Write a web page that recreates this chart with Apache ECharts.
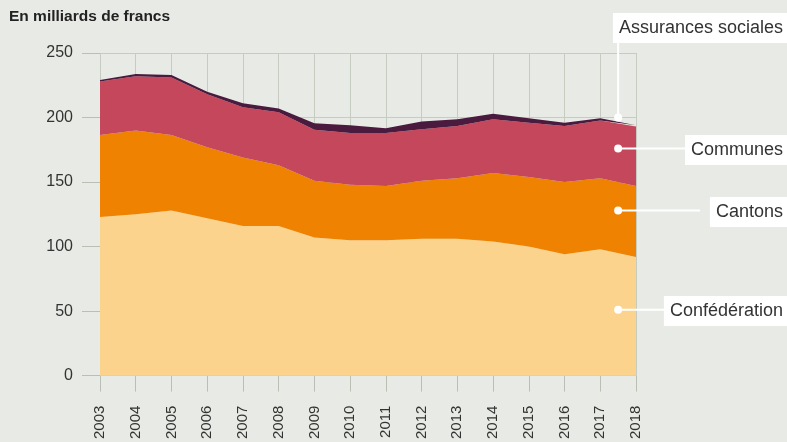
<!DOCTYPE html>
<html>
<head>
<meta charset="utf-8">
<script src="https://cdn.jsdelivr.net/npm/echarts@6/dist/echarts.min.js"></script>
<style>
  html, body { margin: 0; padding: 0; background: #e8ebe5; }
  #chart { width: 787px; height: 442px; }
</style>
</head>
<body>
<div id="chart"></div>
<script>
// Data (milliards de francs)
const years = ['2003','2004','2005','2006','2007','2008','2009','2010','2011','2012','2013','2014','2015','2016','2017','2018'];
const confederation = [123, 125, 128, 122, 116, 116, 107, 105, 105, 106, 106, 104, 100, 94, 98, 92];
const cantons = [63.5, 65, 58.5, 55, 53, 47, 44, 43, 42, 45, 47, 53, 54, 56, 55, 55];
const communes = [41.5, 42, 44.5, 41, 39, 41, 39.5, 40, 41, 40, 40.5, 41.6, 42, 43.5, 44.6, 46];
const assurances = [1, 1.7, 2, 2, 3, 3, 5, 6, 3.6, 6, 5.1, 4.4, 3.4, 2.5, 1.8, 1];

const seriesNames = ['Confédération', 'Cantons', 'Communes', 'Assurances sociales'];
const seriesData = [confederation, cantons, communes, assurances];
const colors = ['#fcd38d', '#ef8200', '#c4475b', '#4b1b3f'];
// value (cumulative) where each annotation dot sits, and box top y of each label
const labelAnchors = [51, 128, 176, 200];
const labelBoxY = [296, 197, 135, 13];

const chart = echarts.init(document.getElementById('chart'));
const font = '"Liberation Sans", Arial, sans-serif';

const option = {
  backgroundColor: '#e8ebe5',
  animation: false,
  textStyle: { fontFamily: font },
  grid: { left: 100, right: 151, top: 53, bottom: 66 },
  xAxis: {
    type: 'category',
    data: years,
    boundaryGap: false,
    axisLine: { show: false },
    axisTick: { show: true, length: 16, lineStyle: { color: '#b9c0b3' } },
    axisLabel: { rotate: 90, fontSize: 15, color: '#333', margin: 30, fontFamily: font },
    splitLine: { show: true, lineStyle: { color: '#c6cdc0', width: 1 } }
  },
  yAxis: {
    type: 'value',
    min: 0,
    max: 250,
    interval: 50,
    axisLine: { show: false },
    axisTick: { show: true, length: 18, lineStyle: { color: '#b9c0b3' } },
    axisLabel: { fontSize: 16, color: '#333', margin: 27, fontFamily: font },
    splitLine: { show: true, lineStyle: { color: '#c6cdc0', width: 1 } }
  },
  series: seriesNames.map((name, i) => ({
    type: 'line',
    name: name,
    stack: 'total',
    data: seriesData[i],
    symbol: 'none',
    smooth: false,
    lineStyle: { width: 0 },
    areaStyle: { color: colors[i], opacity: 1 },
    z: 2
  }))
};
chart.setOption(option);

// annotation boxes with leader lines
const gx = chart.convertToPixel({ xAxisIndex: 0 }, years[14]);
const gx2 = chart.convertToPixel({ xAxisIndex: 0 }, years[15]);
const dotX = (gx + gx2) / 2;
const graphics = [{
  type: 'text',
  left: 9,
  top: 9,
  style: { text: 'En milliards de francs', font: 'bold 15.5px ' + font, fill: '#222' }
}];
seriesNames.forEach((name, i) => {
  const dotY = chart.convertToPixel({ yAxisIndex: 0 }, labelAnchors[i]);
  const boxH = 30;
  const boxMid = labelBoxY[i] + boxH / 2;
  if (i === 3) {
    graphics.push({
      type: 'line', z: 10,
      shape: { x1: dotX, y1: dotY, x2: dotX, y2: labelBoxY[i] + boxH },
      style: { stroke: '#fff', lineWidth: 2 }
    });
  } else {
    graphics.push({
      type: 'line', z: 10,
      shape: { x1: dotX, y1: dotY, x2: 700, y2: dotY },
      style: { stroke: '#fff', lineWidth: 2 }
    });
  }
  graphics.push({
    type: 'circle', z: 11,
    shape: { cx: dotX, cy: dotY, r: 4 },
    style: { fill: '#fff' }
  });
  graphics.push({
    type: 'text', z: 12,
    x: 787, y: boxMid,
    style: {
      text: name,
      font: '18px ' + font,
      fill: '#333',
      align: 'right',
      verticalAlign: 'middle',
      backgroundColor: '#fff',
      padding: [6, 4, 6, 6]
    }
  });
});
chart.setOption({ graphic: graphics });
</script>
</body>
</html>
